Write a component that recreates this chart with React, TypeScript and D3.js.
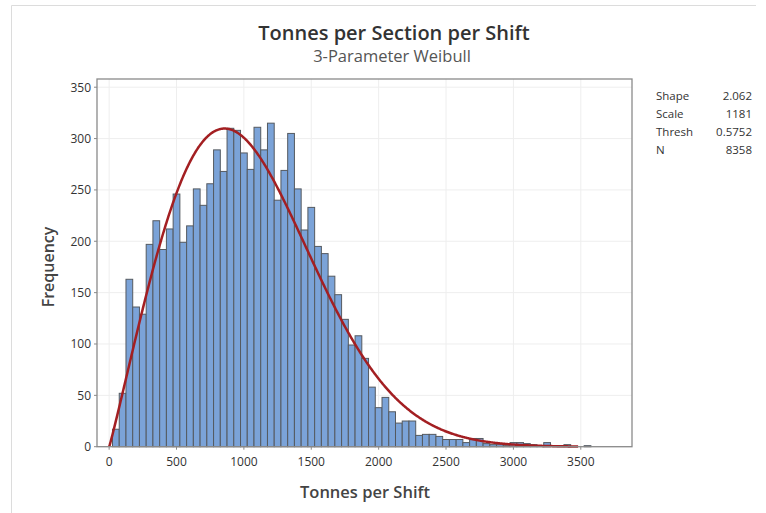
import React from "react";
import * as d3 from "d3";

// Histogram bin midpoints (bin width 50) and frequencies
const binWidth = 50;
const binMids = [
  50, 100, 150, 200, 250, 300, 350, 400, 450, 500,
  550, 600, 650, 700, 750, 800, 850, 900, 950, 1000,
  1050, 1100, 1150, 1200, 1250, 1300, 1350, 1400, 1450, 1500,
  1550, 1600, 1650, 1700, 1750, 1800, 1850, 1900, 1950, 2000,
  2050, 2100, 2150, 2200, 2250, 2300, 2350, 2400, 2450, 2500,
  2550, 2600, 2650, 2700, 2750, 2800, 2850, 2900, 2950, 3000,
  3050, 3100, 3150, 3200, 3250, 3300, 3350, 3400, 3450, 3500,
  3550,
];
const frequencies = [
  17, 52, 163, 136, 129, 197, 220, 192, 212, 246,
  199, 215, 251, 235, 256, 289, 268, 310, 308, 286,
  270, 311, 289, 315, 240, 269, 305, 251, 211, 233,
  195, 188, 166, 148, 124, 99, 108, 86, 58, 38,
  48, 34, 23, 25, 25, 11, 12, 12, 10, 7,
  7, 7, 4, 8, 8, 3, 2, 2, 1, 4,
  4, 3, 2, 1, 4, 0, 1, 2, 0, 0,
  1,
];

// Fitted distribution parameters shown in the chart
const statLabels = ["Shape", "Scale", "Thresh", "N"];
const statValues = ["2.062", "1181", "0.5752", "8358"];
const weibullShape = 2.062;
const weibullScale = 1181;
const weibullThresh = 0.5752;
const sampleN = 8358;
const fitEnd = 3480;

const xTicks = [0, 500, 1000, 1500, 2000, 2500, 3000, 3500];
const yTicks = [0, 50, 100, 150, 200, 250, 300, 350];

const FONT = "'Open Sans', 'Noto Sans', sans-serif";

export default function App() {
  const W = 766, H = 513;
  const left = 97, right = 632, top = 79, bottom = 446.7;
  const x = d3.scaleLinear().domain([-90, 3880]).range([left, right]);
  const y = d3.scaleLinear().domain([0, 358]).range([bottom, top]);

  const fitDensity = (v: number) => {
    const t = (v - weibullThresh) / weibullScale;
    if (t <= 0) return 0;
    const k = weibullShape;
    return (k / weibullScale) * Math.pow(t, k - 1) * Math.exp(-Math.pow(t, k));
  };
  const fitPts = d3.range(weibullThresh, fitEnd, 5).concat([fitEnd]).map((v) => [v, fitDensity(v) * sampleN * binWidth] as [number, number]);
  const line = d3.line<[number, number]>().x((d) => x(d[0])).y((d) => y(d[1])).curve(d3.curveLinear);

  return (
    <svg width={W} height={H} style={{ position: "absolute", left: 0, top: 0, background: "#fff" }} fontFamily={FONT}>
      {/* outer border */}
      <line x1={11.5} y1={5.5} x2={756} y2={5.5} stroke="#dcdcdc" strokeWidth={1} />
      <line x1={11.5} y1={5.5} x2={11.5} y2={513} stroke="#dcdcdc" strokeWidth={1} />

      {/* title */}
      <text x={394} y={40} textAnchor="middle" fontSize={20} fontWeight={600} fill="#333">Tonnes per Section per Shift</text>
      <text x={392} y={62} textAnchor="middle" fontSize={16.5} fill="#555">3-Parameter Weibull</text>

      {/* gridlines */}
      {xTicks.map((t) => (
        <line key={"gx" + t} x1={x(t)} x2={x(t)} y1={top} y2={bottom} stroke="#eeeeee" strokeWidth={1} />
      ))}
      {yTicks.map((t) => (
        <line key={"gy" + t} x1={left} x2={right} y1={y(t)} y2={y(t)} stroke="#eeeeee" strokeWidth={1} />
      ))}

      {/* bars */}
      {binMids.map((m, i) => frequencies[i] > 0 ? (
        <rect key={"b" + i}
          x={x(m - binWidth / 2)} y={y(frequencies[i])}
          width={x(m + binWidth / 2) - x(m - binWidth / 2)} height={bottom - y(frequencies[i])}
          fill="#7ba3d8" stroke="#555a60" strokeWidth={1} />
      ) : null)}

      {/* fit curve */}
      <path d={line(fitPts) || ""} fill="none" stroke="#a31f22" strokeWidth={2.5} />

      {/* frame */}
      <rect x={left} y={top} width={right - left} height={bottom - top} fill="none" stroke="#8a8a8a" strokeWidth={1.3} />

      {/* y axis */}
      {yTicks.map((t) => (
        <g key={"yt" + t}>
          <line x1={left - 3} x2={left} y1={y(t)} y2={y(t)} stroke="#8a8a8a" />
          <text x={left - 6} y={y(t) + 4.5} textAnchor="end" fontSize={12} fill="#333">{t}</text>
        </g>
      ))}
      {/* x axis */}
      {xTicks.map((t) => (
        <g key={"xt" + t}>
          <line x1={x(t)} x2={x(t)} y1={bottom} y2={bottom + 3} stroke="#8a8a8a" />
          <text x={x(t)} y={bottom + 19} textAnchor="middle" fontSize={12} fill="#333">{t}</text>
        </g>
      ))}

      <text x={365} y={498} textAnchor="middle" fontSize={16.5} fontWeight={600} fill="#444">Tonnes per Shift</text>
      <text transform={`translate(54,267) rotate(-90)`} textAnchor="middle" fontSize={16} fontWeight={600} fill="#444">Frequency</text>

      {/* stats table */}
      {statLabels.map((s, i) => (
        <g key={"st" + s}>
          <text x={656} y={100 + i * 18} fontSize={11.5} fill="#333">{s}</text>
          <text x={752} y={100 + i * 18} textAnchor="end" fontSize={11.5} fill="#333">{statValues[i]}</text>
        </g>
      ))}
    </svg>
  );
}
